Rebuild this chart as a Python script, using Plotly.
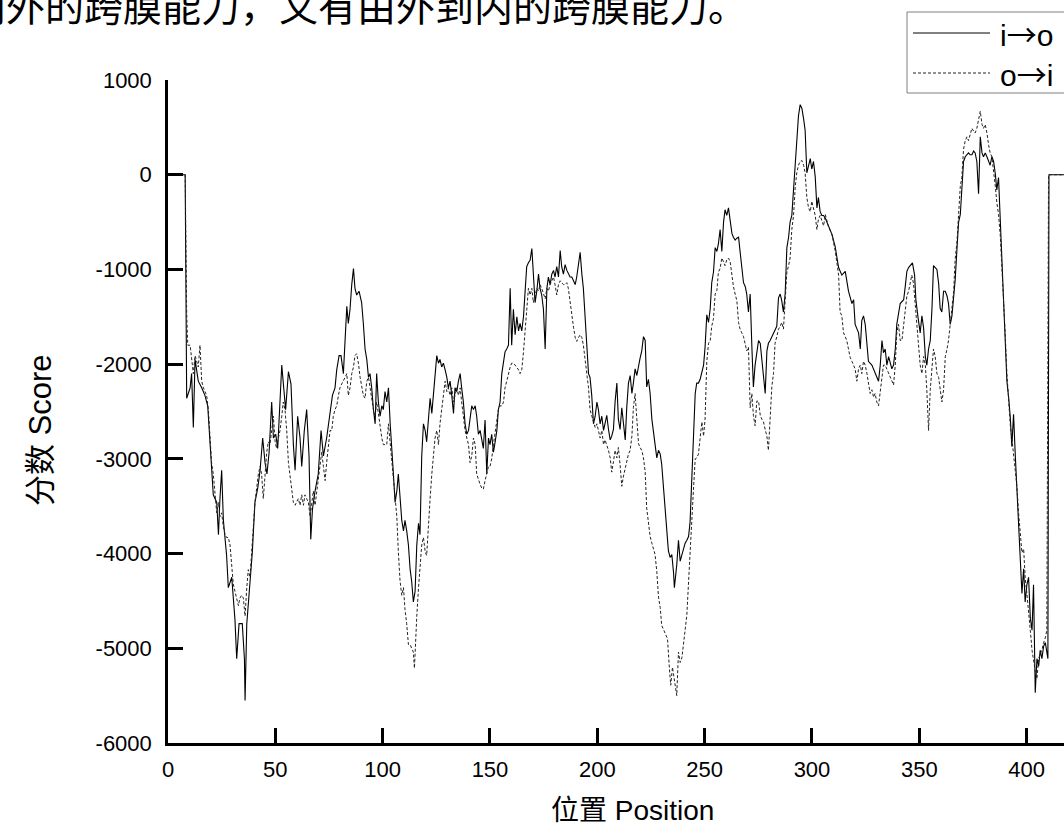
import plotly.graph_objects as go

# ---- data ----
pos_io = [1, 8, 8.7, 10.3, 11.0, 11.8, 12.6, 13.4, 14.1, 15.7, 17.2, 18.5, 19.6, 21.1, 22.7, 23.5, 24.2, 25.0, 25.8, 27.3, 28.1, 29.7,
          31.2, 32.0, 33.1, 34.6, 35.6, 35.9, 36.7, 38.2, 39.3, 40.5, 41.8, 42.9, 44.1, 45.2, 46.1, 47.1, 48.3, 49.1, 50.2, 51.1,
          52.2, 53.0, 53.9, 54.8, 56.1, 57.3, 58.4, 59.2, 60.4, 61.5, 62.3, 63.5, 64.6, 65.7, 66.5, 67.3, 68.5, 70.0, 71.3, 72.4,
          73.9, 75.5, 76.6, 77.8, 78.6, 79.7, 80.6, 81.7, 82.5, 83.3, 84.0, 84.8, 85.6, 86.4, 87.1, 87.9, 89.0, 90.2, 91.0, 91.8,
          92.6, 93.4, 94.1, 94.9, 95.7, 96.5, 97.2, 98.0, 98.8, 99.6, 100.3, 101.1, 101.9,
          102.7, 103.5, 104.2, 105.0, 105.8, 106.6, 107.3, 108.1, 108.9, 109.7, 110.4, 111.2, 112.0, 112.8, 113.5, 114.3, 115.1,
          115.9, 116.7, 117.4, 118.2, 119.0, 119.8, 120.5, 121.3, 122.1, 122.9, 123.6, 124.4, 125.2, 126.0, 126.7, 127.5, 128.3,
          129.1, 129.9, 130.6, 131.4, 132.2, 133.0, 133.7, 134.5, 135.3, 136.1, 136.8, 137.6, 138.4, 139.2, 140.0, 140.7, 141.5,
          142.3, 143.1, 143.8, 144.6, 145.4, 146.2, 146.9, 147.7, 148.5, 149.3, 150.0, 150.8, 151.6, 152.4, 153.2, 153.9, 154.7,
          155.5, 156.3, 157.0, 157.8, 158.6, 159.4, 160.1, 160.9, 161.7, 162.5, 163.3, 164.0, 164.8, 165.6, 166.4, 167.1, 167.9,
          168.7, 169.5, 170.2, 171.0, 171.8, 172.6, 173.3, 174.1, 174.9, 175.7, 176.5, 177.2, 178.0, 178.8, 179.6, 180.3, 181.1,
          181.9, 182.7, 183.4, 184.2, 185.0, 185.8, 186.5, 187.3, 188.1, 188.9, 189.7, 190.4, 191.2, 192.0, 192.8, 193.5, 194.3,
          195.1, 195.9, 196.6, 197.4, 198.2, 199.0, 199.8, 200.5, 201.3, 202.1, 202.9,
          204.4, 205.2, 206.0, 206.7, 207.5, 208.3, 209.1, 209.8, 210.6, 211.4, 212.2, 213.0, 213.7, 214.5, 215.3, 216.1, 216.8,
          217.6, 218.4, 219.2, 219.9, 220.7, 221.5, 222.3, 223.0, 223.8, 224.6, 225.4, 226.2, 226.9, 227.7, 228.5, 229.3, 230.0,
          230.8, 231.6, 232.4, 233.1, 233.9, 234.7, 235.5, 235.9, 237.0, 237.8, 238.6, 239.4, 240.1, 240.9, 241.7, 242.5, 243.2,
          244.0, 244.8, 245.6, 246.3, 247.1, 247.9, 248.7, 249.5, 250.2, 251.0, 251.8, 252.6, 253.3, 254.1, 254.9, 255.7, 256.4,
          257.2, 258.0, 258.8, 259.5, 260.3, 261.1, 261.9, 262.7, 263.4, 264.2, 265.0, 265.8, 266.5, 267.3, 268.1, 268.9, 269.6,
          270.4, 271.2, 272.0, 272.7, 273.5, 274.3, 275.1, 275.9, 276.6, 277.4, 278.2, 279.0, 279.7, 280.5, 281.3, 282.1, 282.8,
          283.6, 284.4, 285.2, 285.9, 286.7, 287.5, 288.3, 289.1, 289.8, 290.6, 291.4, 292.2, 292.9, 293.7, 294.5, 295.3, 296.1,
          296.8, 297.6, 298.4, 299.2, 299.9, 300.7, 301.5, 302.3, 303.0, 303.8, 304.6, 305.4,
          306.2, 307.7, 309.3, 310.8, 312.4, 313.9, 315.5, 317.0, 318.6, 319.4, 320.1, 321.7, 322.5, 323.2, 324.0, 324.8, 325.6,
          326.3, 327.9, 329.4, 331.0, 331.8, 332.6, 333.3, 334.1, 334.9, 335.7, 337.2, 338.0, 338.8, 339.5, 341.1, 342.7, 343.4,
          344.2, 345.0, 345.8, 346.8, 347.8, 348.4, 349.3, 350.4, 351.2, 352.0, 352.8, 353.5, 354.3, 355.1, 355.9, 356.6, 357.4,
          358.2, 359.0, 359.7, 360.5, 361.3, 362.1, 362.9, 363.6, 364.4, 365.2, 366.0, 366.7, 367.5, 368.3, 369.1, 369.8, 370.6,
          371.4, 372.2, 372.9, 373.7, 374.5, 375.3, 376.0, 376.8, 377.6, 378.4, 379.2, 379.9, 380.7, 381.5, 382.3, 383.0, 383.8,
          384.6, 385.4, 386.1, 386.9, 387.7, 388.5, 389.3, 390.0, 390.8, 391.6, 392.4, 393.1, 393.9, 394.7, 395.5, 396.2, 397.0,
          397.8, 398.6, 399.3, 400.1, 400.9, 401.7, 402.5, 403.2, 404.0, 404.8, 405.6, 406.3, 407.1, 407.9, 408.7, 409.9, 410.4,
          420]
score_io = [0, 0, -2360, -2250, -2100, -2670, -1950, -2100, -2180, -2250, -2330, -2440, -2850, -3380, -3460, -3800, -3420, -3120,
            -3650, -4020, -4360, -4250, -4700, -5110, -4740, -4740, -5110, -5550, -4740, -4290, -3980, -3460, -3310, -3120, -2780,
            -3040, -3160, -2930, -2400, -2780, -2740, -2890, -2440, -2010, -2250, -2480, -2080, -2210, -2850, -3120, -2550, -2780,
            -3080, -2700, -2480, -2970, -3850, -3530, -3340, -3160, -2700, -2970, -2780, -2480, -2330, -2250, -2060, -1910, -1910,
            -2100, -1800, -1390, -1570, -1420, -1160, -990, -1200, -1270, -1230, -1350, -1570, -1840, -1950, -2140, -2100, -2250,
            -2480, -2630, -2100, -2400, -2550, -2440, -2480, -2290, -2400,
            -2250, -2630, -2930, -3160, -3460, -3340, -3160, -3460, -3650, -3760, -3650, -3760, -3910, -4170, -4290, -4510, -4400,
            -3910, -3680, -3800, -2970, -2630, -2700, -2820, -2630, -2360, -2520, -2330, -2180, -1910, -1990, -1950, -2030, -1990,
            -2060, -2140, -2250, -2180, -2330, -2520, -2250, -2290, -2180, -2100, -2250, -2400, -2630, -2740, -2700, -2550, -2440,
            -2480, -2440, -2550, -2740, -2700, -2820, -2890, -2590, -3160, -2780, -2850, -2740, -2930, -2820, -2700, -2480, -2400,
            -2100, -1950, -1870, -1840, -1800, -1200, -1800, -1420, -1690, -1500, -1650, -1570, -1650, -1500, -1160, -970, -930,
            -900, -780, -1010, -1350, -1230, -1050, -1200, -1270, -1420, -1840, -1200, -1080, -1160, -1050, -1010, -1080, -970,
            -1080, -800, -970, -1050, -950, -1010, -1050, -1080, -1080, -1120, -1160, -1080, -970, -820, -1050, -1200, -1500,
            -1800, -2100, -2140, -2330, -2630, -2550, -2400, -2480, -2630, -2550, -2700,
            -2540, -2690, -2800, -2760, -2690, -2390, -2200, -2580, -2690, -2460, -2610, -2800, -2460, -2200, -2120, -2310, -2200,
            -2050, -2120, -2010, -1940, -1860, -1710, -1750, -2240, -2160, -2310, -2580, -2730, -2840, -2990, -2910, -2950, -3060,
            -3290, -3520, -3740, -3970, -4040, -4010, -4200, -4360, -4120, -3860, -4080, -4010, -3930, -3890, -3860, -3820, -3670,
            -3220, -2610, -2310, -2200, -2200, -2160, -2090, -2010, -1820, -1480, -1560, -1410, -1140, -1030, -770, -810, -730,
            -580, -810, -500, -370, -430, -350, -500, -620, -660, -690, -670, -660, -810, -990, -1140, -1180, -1260,
            -1450, -1260, -1820, -2240, -2010, -1860, -1750, -1780, -1940, -2090, -2310, -1860, -1780, -1750, -1710, -1670, -1630,
            -1600, -1300, -1260, -1330, -1450, -1260, -770, -660, -500, -430, -130, 170, 400, 620, 740, 700, 590,
            470, 20, 100, 170, 60, 140, -20, -350, -240, -390, -430, -430,
            -460, -550, -630, -760, -980, -1060, -1020, -1230, -1360, -1320, -1580, -1670, -1840, -1540, -1490, -1580, -1790,
            -1970, -2010, -2100, -2180, -2010, -1750, -1880, -1840, -2010, -1920, -2050, -2010, -1840, -1580, -1360, -1320, -1190,
            -1020, -980, -960, -930, -1060, -1320, -1490, -1670, -1490, -1620, -1920, -2010, -1840, -1750, -1410, -960, -980,
            -1000, -1150, -1410, -1450, -1230, -1230, -1280, -1360, -1580, -1490, -1280, -1110, -800, -500, -420, -120, 140,
            190, 210, 230, 210, 210, 250, 230, 140, -200, 400, 230, 190, 230, 190, 140, 100, 190,
            140, 10, -160, -30, -500, -930, -1360, -1790, -2180, -2350, -2570, -2870, -2530, -2960, -3300, -3730, -4070,
            -4420, -4160, -4510, -4330, -4250, -4680, -4810, -4330, -5470, -5110, -5190, -5020, -5110, -4980, -4940, -5110, 0,
            0]

pos_oi = [1, 8, 8.7, 9.2, 10.3, 11.0, 11.8, 12.6, 13.4, 14.1, 14.9, 15.7, 16.5, 17.2, 18.0, 18.8, 19.6, 20.3, 21.1, 21.9, 22.7,
          23.5, 24.2, 25.0, 25.8, 26.6, 27.3, 28.1, 28.9, 29.7, 30.4, 31.2, 32.0, 32.8, 33.5, 34.3, 35.1, 35.9, 36.7, 37.4, 38.2,
          39.0, 39.8, 40.5, 41.3, 42.1, 42.9, 43.6, 44.4, 45.2, 46.0, 46.7, 47.5, 48.3, 49.1, 49.9, 50.6, 51.4, 52.2, 53.0, 53.7,
          54.5, 55.3, 56.1, 56.8, 57.6, 58.4, 59.2, 60.0, 60.7, 61.5, 62.3, 63.1, 63.8, 64.6, 65.4, 66.2, 67.0, 67.7, 68.5, 69.3,
          70.1, 70.8, 71.6, 72.4, 73.2, 73.9, 74.7, 75.5, 76.3, 77.0, 77.8, 78.6, 79.4, 80.1, 80.9, 81.7, 82.5, 83.3, 84.0, 84.8,
          85.6, 86.4, 87.1, 87.9, 88.7, 89.5, 90.2, 91.0, 91.8, 92.6, 93.4, 94.1, 94.9, 95.7, 96.5, 97.2, 98.0, 98.8, 99.6, 100.3,
          101.9, 102.7, 103.5, 104.2, 105.0, 105.8, 106.6, 107.3, 108.1, 108.9, 109.7, 110.4, 111.2, 112.0, 112.8, 113.5, 114.3,
          114.8, 115.1, 115.9, 116.7, 117.4, 118.2, 119.0, 119.8, 120.5, 121.3, 122.1, 122.9, 123.6, 124.4, 125.2, 126.0, 126.7,
          127.5, 128.3, 129.1, 129.9, 130.6, 131.4, 132.2, 133.0, 133.7, 134.5, 135.3, 136.1, 136.8, 137.6, 138.4, 139.2, 140.0,
          140.7, 141.5, 142.3, 143.1, 143.8, 144.6, 145.4, 146.2, 146.9, 147.7, 148.5, 149.3, 150.0, 150.8, 151.6, 152.4, 153.2,
          153.9, 154.7, 155.5, 156.3, 157.0, 157.8, 158.6, 159.4, 160.1, 160.9, 161.7, 162.5, 163.3, 164.0, 164.8, 165.6, 166.4,
          167.1, 167.9, 168.7, 169.5, 170.2, 171.0, 171.8, 172.6, 173.3, 174.1, 174.9, 175.7, 176.5, 177.2, 178.0, 178.8, 179.6,
          180.3, 181.1, 181.9, 182.7, 183.4, 184.2, 185.0, 185.8, 186.5, 187.3, 188.1, 188.9, 189.7, 190.4, 191.2, 192.0, 192.8,
          193.5, 194.3, 195.1, 195.9, 196.6, 197.4, 198.2, 199.0, 199.8, 200.5, 201.3, 202.1, 202.9,
          203.6, 205.2, 206.0, 206.7, 207.5, 208.3, 209.1, 209.8, 210.6, 211.4, 212.2, 213.0, 213.7, 214.5, 215.3, 216.1, 216.8,
          217.6, 218.4, 219.2, 219.9, 220.7, 221.5, 222.3, 223.0, 223.8, 224.6, 225.4, 226.2, 226.9, 227.7, 228.5, 229.3, 230.0,
          230.8, 232.7, 233.6, 234.2, 235.0, 235.8, 237.0, 237.8, 238.6, 239.4, 240.9, 241.7, 242.5, 243.2, 244.0, 244.8, 245.6,
          246.3, 247.1, 247.9, 248.7, 249.5, 250.2, 251.0, 251.8, 252.6, 253.3, 254.1, 254.9, 255.7, 256.4, 257.2, 258.0, 258.8,
          259.5, 260.3, 261.1, 261.9, 262.7, 263.4, 264.2, 265.0, 265.8, 266.5, 267.3, 268.1, 268.9, 269.6, 270.4, 271.2, 272.0,
          272.7, 273.5, 274.3, 275.1, 275.9, 276.6, 277.4, 278.2, 279.0, 279.7, 280.5, 281.3, 282.1, 282.8, 283.6, 284.4, 285.2,
          285.9, 286.7, 287.5, 288.3, 289.1, 289.8, 290.6, 291.4, 292.2, 292.9, 293.7, 294.5, 295.3, 296.1, 296.8, 297.6, 298.4,
          299.2, 299.9, 300.7, 301.5, 302.3, 303.0, 303.8, 304.6, 305.4,
          306.2, 307.7, 309.3, 310.8, 312.4, 313.1, 313.9, 314.7, 315.5, 316.2, 317.0, 317.8, 318.6, 319.4, 320.1, 320.9, 321.7,
          322.5, 323.2, 324.0, 324.8, 325.6, 326.3, 327.1, 327.9, 328.7, 329.4, 330.2, 331.0, 331.8, 332.6, 333.3, 334.1, 334.9,
          335.7, 336.4, 337.2, 338.0, 338.8, 339.5, 340.3, 341.1, 341.9, 342.7, 343.4, 344.2, 345.0, 345.8, 346.5, 347.3, 348.1,
          348.9, 349.6, 350.4, 351.2, 352.0, 352.8, 353.5, 354.3, 355.1, 355.9, 356.6, 357.4, 358.2, 359.0, 359.7, 360.5, 361.3,
          362.1, 362.9, 363.6, 364.4, 365.2, 366.0, 366.7, 367.5, 368.3, 369.1, 369.8, 370.6, 371.4, 372.2, 372.9, 373.7, 374.5,
          375.3, 376.0, 376.8, 377.6, 378.4, 379.2, 379.9, 380.7, 381.5, 382.3, 383.0, 383.8, 384.6, 385.4, 386.1, 386.9, 387.7,
          388.5, 389.3, 390.0, 390.8, 391.6, 392.4, 393.1, 393.9, 394.7, 395.5, 396.2, 397.0, 397.8, 398.6, 399.3, 400.1, 400.9,
          401.7, 402.5, 403.2, 404.0, 404.8, 405.6, 406.3, 407.1, 407.9, 408.7, 409.4, 410.2, 420]
score_oi = [0, 0, -1460, -1800, -1800, -1950, -2100, -1910, -1990, -2030, -1800, -2180, -2250, -2290, -2330, -2480, -2780, -3040,
            -3160, -3380, -3570, -3460, -3610, -3570, -3720, -3800, -3830, -3830, -3910, -4130, -4320, -4400, -4470, -4550, -4470,
            -4440, -4470, -4660, -4360, -4170, -4250, -3980, -3680, -3460, -3310, -3160, -3080, -3160, -3420, -3160, -2930, -2820,
            -2850, -2700, -2550, -2820, -2890, -2780, -2700, -2550, -2400, -2480, -2700, -3040, -3160, -3310, -3460, -3490, -3460,
            -3420, -3490, -3380, -3490, -3380, -3420, -3460, -3610, -3460, -3340, -3490, -3340, -3230, -3040, -2930, -3080, -3230,
            -3040, -2850, -2700, -2700, -2550, -2480, -2440, -2330, -2250, -2210, -2180, -2140, -2100, -2330, -2250, -2100, -2030,
            -1910, -1890, -1990, -2140, -2250, -2330, -2360, -2180, -2140, -2250, -2330, -2480, -2550, -2400, -2520, -2670, -2780,
            -2850,
            -2850, -2630, -2820, -3040, -3230, -3380, -3610, -3980, -4290, -4440, -4360, -4590, -4740, -4960, -4960, -5000, -5040,
            -5210, -5000, -4660, -4360, -4170, -3910, -3830, -3980, -4020, -3680, -3420, -3160, -2970, -2780, -2700, -2850, -2630,
            -2480, -2330, -2180, -2290, -2250, -2330, -2250, -2400, -2330, -2250, -2330, -2250, -2400, -2550, -2700, -2780, -2850,
            -3040, -2970, -2780, -2850, -3160, -3230, -3270, -3310, -3320, -3230, -3160, -3080, -3080, -3000, -2850, -2700, -2550,
            -2480, -2440, -2440, -2400, -2250, -2180, -2100, -2030, -1990, -1990, -2010, -2030, -2060, -2100, -2060, -1870, -1610,
            -1350, -1200, -1270, -1200, -1350, -1270, -1200, -1230, -1160, -1200, -1270, -1310, -1200, -1230, -1160, -1120, -1080,
            -1160, -1270, -1160, -1120, -1140, -1160, -1160, -1140, -1200, -1350, -1500, -1610, -1720, -1760, -1720, -1690, -1720,
            -1800, -1950, -2100, -2250, -2480, -2550, -2630, -2670, -2630, -2700, -2780, -2700, -2850,
            -2800, -2910, -2990, -3140, -3030, -2910, -2990, -2880, -3060, -3290, -3180, -3100, -3030, -2950, -2910, -2760, -2460,
            -2310, -2580, -2840, -2880, -2910, -2990, -3140, -3520, -3700, -3820, -3890, -3970, -4010, -4190, -4460, -4570, -4760,
            -4800, -4900, -5220, -5390, -5200, -5320, -5500, -5040, -5150, -5100, -4760, -4650, -4300, -3950, -3600, -3320, -3000,
            -2990, -2950, -2760, -2610, -2760, -2580, -1970, -1780, -1750, -1600, -1520, -1260, -1220, -1030, -990, -880, -920,
            -960, -900, -880, -920, -1070, -1180, -1260, -1330, -1560, -1630, -1670, -1710, -1790, -1860, -1820, -2460, -2310,
            -2540, -2650, -2390, -2390, -2540, -2580, -2610, -2690, -2760, -2910, -2580, -2240, -2090, -1780, -1710, -1630, -1600,
            -1560, -1630, -1330, -1030, -960, -880, -580, -430, -130, 20, 100, 140, 150, 100, 20, -240, -350,
            -390, -280, -350, -430, -580, -470, -430, -500, -540,
            -420, -550, -630, -800, -1060, -1450, -1490, -1670, -1710, -1750, -1840, -1930, -1970, -2010, -2050, -2180, -2050,
            -2010, -2100, -1970, -2010, -2100, -2220, -2310, -2270, -2350, -2310, -2400, -2440, -2270, -2100, -2010, -2010, -2050,
            -2100, -2140, -2180, -2220, -2010, -1670, -1580, -1750, -1750, -1580, -1410, -1280, -1230, -1150, -1060, -1150, -1410,
            -1580, -1790, -2010, -2100, -1920, -2010, -2270, -2700, -2270, -2010, -1840, -1920, -2100, -2140, -2270, -2400, -2270,
            -1920, -1840, -1750, -1580, -1410, -1230, -890, -720, -420, -120, -30, 270, 360, 400, 360, 440, 490,
            460, 440, 490, 570, 670, 530, 490, 530, 440, 310, 230, 190, 60, -120, -290, -420, -640,
            -980, -1230, -1670, -2100, -2440, -2650, -2780, -2960, -3130, -3300, -3560, -3820, -3990, -3950, -4250, -4420, -4590,
            -4810, -5020, -5150, -5240, -5320, -5110, -5060, -5020, -4940, -4890, -4810, 0, 0]

series_names = ["i\u2192o", "o\u2192i"]
x_ticks = [0, 50, 100, 150, 200, 250, 300, 350, 400]
y_ticks = [1000, 0, -1000, -2000, -3000, -4000, -5000, -6000]
x_title = "位置 Position"
y_title = "分数 Score"
top_text = "向外的跨膜能力，又有由外到内的跨膜能力。"

W, H = 1064, 836
L, R, T, B = 168, 0, 80, 93
pw, ph = W - L - R, H - T - B


def px(xp):
    return (xp - L) / pw


def py(yp):
    return (H - B - yp) / ph


fig = go.Figure()
fig.add_trace(go.Scatter(x=pos_io, y=score_io, mode="lines", name=series_names[0],
                         line=dict(color="black", width=1.1), showlegend=False))
fig.add_trace(go.Scatter(x=pos_oi, y=score_oi, mode="lines", name=series_names[1],
                         line=dict(color="#222222", width=1, dash="3px,2px"), showlegend=False))

axis_common = dict(showline=True, linecolor="black", linewidth=2.5, ticks="inside", ticklen=15,
                   tickwidth=2.5, tickcolor="black", showgrid=False, zeroline=False,
                   tickfont=dict(family="Liberation Sans, Arial", size=22, color="black"))
fig.update_xaxes(range=[0, 417.4], tickvals=x_ticks, ticktext=[str(v) for v in x_ticks],
                 ticklabelstandoff=5, **axis_common)
fig.update_yaxes(range=[-6000, 1000], tickvals=y_ticks, ticktext=[str(v) for v in y_ticks],
                 ticklabelstandoff=9, **axis_common)

cjk = "Liberation Sans, Noto Sans CJK SC, sans-serif"
arrow_font = "<span style='font-family:Noto Sans CJK SC'>\u2192</span>"
ann = []
ann.append(dict(text=x_title, xref="paper", yref="paper", x=px(632), y=py(810), showarrow=False,
                xanchor="center", yanchor="middle", font=dict(family=cjk, size=28, color="black")))
ann.append(dict(text=y_title, xref="paper", yref="paper", x=px(40), y=py(430), showarrow=False,
                textangle=-90, xanchor="center", yanchor="middle", font=dict(family=cjk, size=31, color="black")))
ann.append(dict(text=top_text, xref="paper", yref="paper", x=px(-35), y=py(34), showarrow=False,
                xanchor="left", yanchor="bottom", font=dict(family="Noto Sans CJK SC", size=39, color="black")))
# legend (drawn manually to match the box layout)
ann.append(dict(text="i" + arrow_font + "o", xref="paper", yref="paper", x=px(998), y=py(33), showarrow=False,
                xanchor="left", yanchor="middle", font=dict(family="Liberation Sans, Arial", size=30, color="black")))
ann.append(dict(text="o" + arrow_font + "i", xref="paper", yref="paper", x=px(998), y=py(73), showarrow=False,
                xanchor="left", yanchor="middle", font=dict(family="Liberation Sans, Arial", size=30, color="black")))

shapes = [
    dict(type="rect", xref="paper", yref="paper", x0=px(907), x1=px(1100), y0=py(93), y1=py(12),
         line=dict(color="#808080", width=1), fillcolor="rgba(0,0,0,0)"),
    dict(type="line", xref="paper", yref="paper", x0=px(913), x1=px(990), y0=py(33), y1=py(33),
         line=dict(color="black", width=1)),
    dict(type="line", xref="paper", yref="paper", x0=px(913), x1=px(990), y0=py(73), y1=py(73),
         line=dict(color="#222222", width=1, dash="3px,2px")),
]

fig.update_layout(width=W, height=H, margin=dict(l=L, r=R, t=T, b=B, pad=0),
                  paper_bgcolor="white", plot_bgcolor="white", annotations=ann, shapes=shapes,
                  showlegend=False)
fig.write_html("out.html", config={"displayModeBar": False},
               post_script="document.body.style.margin='0';document.body.style.overflow='hidden';")
